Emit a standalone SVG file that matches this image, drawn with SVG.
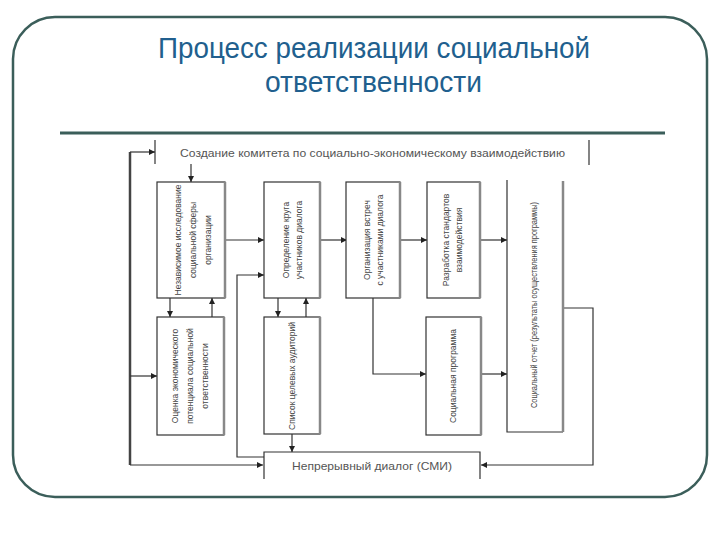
<svg xmlns="http://www.w3.org/2000/svg" width="720" height="540" viewBox="0 0 720 540">
<defs>
<marker id="ah" viewBox="0 0 10 10" refX="10" refY="5" markerWidth="7" markerHeight="6" markerUnits="userSpaceOnUse" orient="auto">
<path d="M0,0 L10,5 L0,10 z" fill="#222"/>
</marker>
<style>
.frame{fill:none;stroke:#3b5e5a;stroke-width:2.5}
.rule{stroke:#3b5e5a;stroke-width:3}
.title{font-family:"Liberation Sans",Arial,sans-serif;font-size:29px;fill:#215f8e}
.box{fill:#fff;stroke:#333;stroke-width:1.2}
.shadow{stroke:#888;stroke-width:2.5;fill:none}
.lbl{font-family:"Liberation Sans",Arial,sans-serif;font-size:8.5px;fill:#444;text-anchor:middle}
.hl{font-family:"Liberation Sans",Arial,sans-serif;font-size:11px;fill:#555}
.c{fill:none;stroke:#333;stroke-width:1.2}
.ca{fill:none;stroke:#333;stroke-width:1.2;marker-end:url(#ah)}
.thick{fill:none;stroke:#444;stroke-width:2.5}
</style>
</defs>
<rect x="0" y="0" width="720" height="540" fill="#fff"/>
<rect class="frame" x="13" y="17" width="694" height="480" rx="42" ry="42"/>
<text class="title" x="158" y="58" textLength="432" lengthAdjust="spacingAndGlyphs">Процесс реализации социальной</text>
<text class="title" x="265" y="92" textLength="217" lengthAdjust="spacingAndGlyphs">ответственности</text>
<line class="rule" x1="60" y1="133" x2="665" y2="133"/>

<g id="connectors">
<line class="c" x1="155" y1="140" x2="155" y2="164"/>
<line class="c" x1="589" y1="140" x2="589" y2="165"/>
<path class="thick" d="M130,152 V465"/>
<path class="ca" d="M130,152 H155"/>
<path class="ca" d="M130,465 H263"/>
<path class="ca" d="M130,376 H157"/>
<path class="ca" d="M191,164 V182"/>
<path class="ca" d="M225,240 H264"/>
<path class="ca" d="M264,457 H237 V275 H264"/>
<path class="ca" d="M320,240 H347"/>
<path class="ca" d="M400,240 H427"/>
<path class="ca" d="M480,240 H507"/>
<path class="ca" d="M170,298 V317"/>
<path class="ca" d="M212,317 V298"/>
<path class="ca" d="M278,298 V317"/>
<path class="ca" d="M306,317 V298"/>
<path class="ca" d="M292,434 V452"/>
<path class="ca" d="M373,298 V374 H426"/>
<path class="ca" d="M481,374 H507"/>
<path class="ca" d="M563,308 H593 V465 H481"/>
</g>

<g id="top-committee">
<text class="hl" x="180" y="157" textLength="385" lengthAdjust="spacingAndGlyphs">Создание комитета по социально-экономическому взаимодействию</text>
</g>

<g id="n1">
<rect class="box" x="157" y="182" width="68" height="116"/>
<line class="shadow" x1="225" y1="182" x2="225" y2="298"/>
<g transform="translate(194,240) rotate(-90)">
<text class="lbl" x="0" y="-13">Независимое исследование</text>
<text class="lbl" x="0" y="2">социальной сферы</text>
<text class="lbl" x="0" y="17">организации</text>
</g>
</g>

<g id="n2">
<rect class="box" x="264" y="182" width="56" height="116"/>
<line class="shadow" x1="320" y1="182" x2="320" y2="298"/>
<g transform="translate(292,240) rotate(-90)">
<text class="lbl" x="0" y="-3">Определение круга</text>
<text class="lbl" x="0" y="10">участников диалога</text>
</g>
</g>

<g id="n3">
<rect class="box" x="346" y="182" width="54" height="116"/>
<line class="shadow" x1="400" y1="182" x2="400" y2="298"/>
<g transform="translate(373,240) rotate(-90)">
<text class="lbl" x="0" y="-3">Организация встреч</text>
<text class="lbl" x="0" y="10">с участниками диалога</text>
</g>
</g>

<g id="n4">
<rect class="box" x="427" y="182" width="53" height="116"/>
<line class="shadow" x1="480" y1="182" x2="480" y2="298"/>
<g transform="translate(452,240) rotate(-90)">
<text class="lbl" x="0" y="-3">Разработка стандартов</text>
<text class="lbl" x="0" y="10">взаимодействия</text>
</g>
</g>

<g id="n5">
<path class="c" d="M507,180 V432 H563"/>
<line class="shadow" x1="563" y1="181" x2="563" y2="432"/>
<g transform="translate(537,305) rotate(-90)">
<text class="lbl" x="0" y="0" textLength="206" lengthAdjust="spacingAndGlyphs">Социальный отчет (результаты осуществления программы)</text>
</g>
</g>

<g id="n6">
<rect class="box" x="157" y="317" width="67" height="118"/>
<line class="shadow" x1="224" y1="317" x2="224" y2="435"/>
<g transform="translate(191,376) rotate(-90)">
<text class="lbl" x="0" y="-13">Оценка экономического</text>
<text class="lbl" x="0" y="2">потенциала социальной</text>
<text class="lbl" x="0" y="17">ответственности</text>
</g>
</g>

<g id="n7">
<rect class="box" x="264" y="317" width="56" height="117"/>
<line class="shadow" x1="320" y1="317" x2="320" y2="434"/>
<g transform="translate(295,376) rotate(-90)">
<text class="lbl" x="0" y="0">Список целевых аудиторий</text>
</g>
</g>

<g id="n8">
<rect class="box" x="426" y="317" width="55" height="118"/>
<line class="shadow" x1="481" y1="317" x2="481" y2="435"/>
<g transform="translate(456,376) rotate(-90)">
<text class="lbl" x="0" y="0">Социальная программа</text>
</g>
</g>

<g id="n9">
<path class="c" d="M264,479 V452 H480 V479"/>
<text class="hl" x="292" y="470" textLength="160" lengthAdjust="spacingAndGlyphs">Непрерывный диалог (СМИ)</text>
</g>
</svg>
